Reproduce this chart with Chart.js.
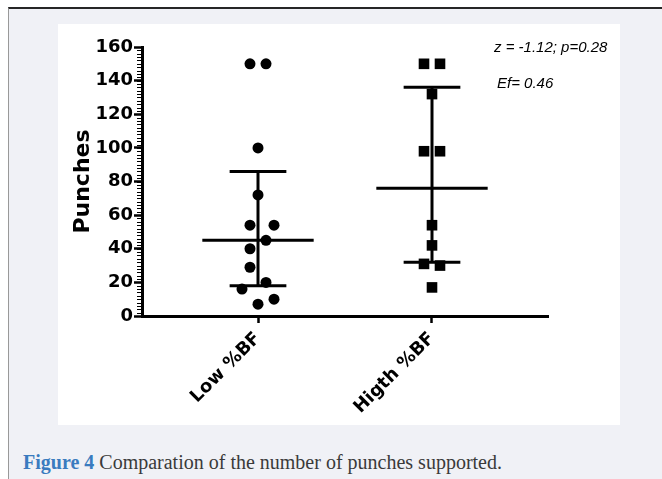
<!DOCTYPE html>
<html>
<head>
<meta charset="utf-8">
<script src="https://cdn.jsdelivr.net/npm/chart.js@4/dist/chart.umd.min.js"></script>
<style>
  body { margin: 0; background: #fff; width: 662px; height: 479px; overflow: hidden; position: relative; }
  .frame {
    position: absolute; left: 8px; top: 7px; width: 654px; height: 472px;
    border-top: 2px solid #262626; border-left: 1px solid #999;
    background: #f0f1f6;
  }
  .panel { position: absolute; left: 58px; top: 24px; width: 562px; height: 401px; background: #fff; }
  .caption {
    position: absolute; left: 23px; top: 452px; line-height: 20px;
    font-family: "Liberation Serif", serif; font-size: 20px; color: #3a3a3a; white-space: nowrap;
  }
  .caption b { color: #3a7bbf; }
</style>
</head>
<body>
<div class="frame"></div>
<div class="panel"><canvas id="chart" width="562" height="401"></canvas></div>
<div class="caption"><b>Figure 4</b> Comparation of the number of punches supported.</div>

<script>
// Groups on the x axis
const groups = ['Low %BF', 'Higth %BF'];

// Individual values
const lowValues = [150, 150, 100, 72, 54, 54, 45, 40, 29, 20, 16, 10, 7];
const highValues = [150, 150, 132, 98, 98, 54, 42, 31, 30, 17];

// Side-by-side spread of the dots (in dot columns), as drawn by the plotting program
const lowSpread = [-0.5, 0.5, 0, 0, -0.5, 1, 0.5, -0.5, -0.5, 0.5, -1, 1, 0];
const highSpread = [-0.5, 0.5, 0, -0.5, 0.5, 0, 0, -0.5, 0.5, 0];

// Centre line and error bar ends per group
const centres = [45, 76];
const barLow = [18, 32];
const barHigh = [86, 136];

// Axis ticks
const yTicks = [0, 20, 40, 60, 80, 100, 120, 140, 160];

// Stats note
const statsLines = ['z = -1.12; p=0.28', 'Ef= 0.46'];

const COLUMN = 0.092;      // width of one dot column in group units
const CENTRE_HALF = 0.32;  // half width of centre line
const CAP_HALF = 0.163;    // half width of bar caps

function toPoints(values, spread, groupIndex) {
  return values.map((v, i) => ({ x: groupIndex + spread[i] * COLUMN, y: v }));
}

function segment(x1, y1, x2, y2) {
  return {
    data: [{ x: x1, y: y1 }, { x: x2, y: y2 }],
    showLine: true,
    borderColor: '#000',
    borderWidth: 3,
    pointRadius: 0,
    borderCapStyle: 'butt'
  };
}

const datasets = [
  {
    data: toPoints(lowValues, lowSpread, 0),
    pointStyle: 'circle',
    pointRadius: 5.5,
    backgroundColor: '#000',
    borderWidth: 0
  },
  {
    data: toPoints(highValues, highSpread, 1),
    pointStyle: 'rect',
    pointRadius: 7.5,
    backgroundColor: '#000',
    borderWidth: 0
  }
];

// Error bars: centre line, caps and the vertical bar
centres.forEach((c, i) => {
  datasets.push(segment(i - CENTRE_HALF, c, i + CENTRE_HALF, c));
  datasets.push(segment(i - CAP_HALF, barHigh[i], i + CAP_HALF, barHigh[i]));
  datasets.push(segment(i - CAP_HALF, barLow[i], i + CAP_HALF, barLow[i]));
  datasets.push(segment(i, barLow[i], i, barHigh[i]));
});

// Small minor ticks along the y axis, every 2 units
const minorTicks = {
  id: 'minorTicks',
  afterDraw(chart) {
    const ctx = chart.ctx;
    const y = chart.scales.y;
    const left = chart.chartArea.left;
    ctx.save();
    ctx.strokeStyle = '#000';
    ctx.lineWidth = 1.2;
    ctx.beginPath();
    for (let v = y.min; v <= y.max; v += 2) {
      const py = Math.round(y.getPixelForValue(v)) + 0.5;
      ctx.moveTo(left - 5, py);
      ctx.lineTo(left, py);
    }
    ctx.stroke();
    ctx.restore();
  }
};

// Stats note in the top right corner
const statsNote = {
  id: 'statsNote',
  afterDraw(chart) {
    const ctx = chart.ctx;
    ctx.save();
    ctx.fillStyle = '#000';
    ctx.font = 'italic 15px "Liberation Sans", Arial, sans-serif';
    ctx.textBaseline = 'alphabetic';
    ctx.fillText(statsLines[0], 436, 28);
    ctx.fillText(statsLines[1], 439, 64);
    ctx.restore();
  }
};

new Chart(document.getElementById('chart'), {
  type: 'scatter',
  data: { datasets: datasets },
  options: {
    responsive: false,
    animation: false,
    clip: false,
    layout: { padding: { top: 23, right: 72, left: 0, bottom: 0 } },
    plugins: {
      legend: { display: false },
      tooltip: { enabled: false }
    },
    scales: {
      x: {
        type: 'linear',
        min: -2 / 3,
        max: 5 / 3,
        afterBuildTicks: scale => {
          scale.ticks = groups.map((g, i) => ({ value: i }));
        },
        afterFit: scale => { scale.height = 109; },
        border: { color: '#000', width: 3 },
        grid: { drawOnChartArea: false, tickLength: 7, tickWidth: 2.5, tickColor: '#000' },
        ticks: {
          callback: v => groups[v],
          minRotation: 45,
          maxRotation: 45,
          autoSkip: false,
          color: '#000',
          padding: 5,
          font: { family: '"DejaVu Sans", sans-serif', weight: 'bold', size: 18 }
        }
      },
      y: {
        min: 0,
        max: 160,
        afterBuildTicks: scale => {
          scale.ticks = yTicks.map(v => ({ value: v }));
        },
        afterFit: scale => { scale.width = 84; },
        border: { color: '#000', width: 3 },
        grid: { drawOnChartArea: false, tickLength: 8, tickWidth: 2.5, tickColor: '#000' },
        ticks: {
          color: '#000',
          padding: 1,
          font: { family: '"DejaVu Sans", sans-serif', weight: 'bold', size: 18 }
        },
        title: {
          display: true,
          text: 'Punches',
          color: '#000',
          padding: { top: 12, bottom: 0 },
          font: { family: '"DejaVu Sans", sans-serif', weight: 'bold', size: 22 }
        }
      }
    }
  },
  plugins: [minorTicks, statsNote]
});
</script>
</body>
</html>
